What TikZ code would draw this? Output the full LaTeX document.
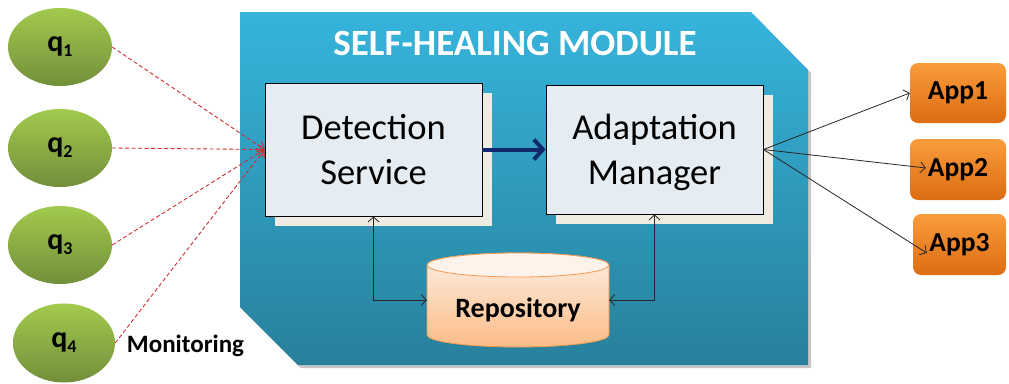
\documentclass[tikz,border=0pt]{standalone}
\usepackage{fontspec}
\setmainfont{Carlito}
\usetikzlibrary{arrows.meta,shadows,shapes.geometric}
\definecolor{modtop}{HTML}{36B4DC}
\definecolor{modbot}{HTML}{28809B}
\definecolor{boxfill}{HTML}{E5EDF2}
\definecolor{pagefill}{HTML}{EEEBE1}
\definecolor{repotop}{HTML}{FEEEE2}
\definecolor{repobot}{HTML}{FBBC88}
\definecolor{repodraw}{HTML}{F39A50}
\definecolor{qtop}{HTML}{A2CA4E}
\definecolor{qbot}{HTML}{728F3A}
\definecolor{apptop}{HTML}{FA9C3C}
\definecolor{appbot}{HTML}{DC6C12}
\definecolor{monred}{HTML}{D42B2B}
\definecolor{navy}{HTML}{10296C}
\tikzset{
  svcbox/.style={draw=black, line width=0.9pt, fill=boxfill, inner sep=0pt, align=center,
    font=\fontsize{36.5}{45}\selectfont,
    copy shadow={shadow xshift=9.5pt, shadow yshift=-9.5pt, fill=pagefill, draw=none}},
  qnode/.style={ellipse, inner sep=0pt, top color=qtop, bottom color=qbot, draw=none,
    font=\fontsize{30}{30}\bfseries\selectfont},
  appnode/.style={rounded corners=8pt, inner sep=0pt, top color=apptop, bottom color=appbot,
    draw=none, font=\fontsize{27.5}{27.5}\bfseries\selectfont},
  mon/.style={monred, line width=0.9pt, dash pattern=on 4pt off 2.5pt,
    -{Straight Barb[length=6pt,width=10pt]}},
  link/.style={black!85, line width=0.8pt},
  barb/.tip={Straight Barb[length=5pt,width=11pt]}
}
\newcommand{\qsub}[1]{q\raisebox{-5pt}{\fontsize{18}{18}\bfseries\selectfont #1}}
\begin{document}
\begin{tikzpicture}[x=1pt,y=-1pt]
\useasboundingbox (0,0) rectangle (1009,383);
% module
\fill[black!22] (243,15) -- (754,15) -- (811,73) -- (811,368) -- (301,368) -- (243,310) -- cycle;
\shade[top color=modtop, bottom color=modbot]
  (240,12) -- (751,12) -- (808,70) -- (808,365) -- (298,365) -- (240,307) -- cycle;
\node (title) at (515,44) [text=white, font=\fontsize{37}{37}\bfseries\selectfont] {SELF-HEALING MODULE};
% service boxes
\node[svcbox, minimum width=217pt, minimum height=133pt] (det) at (373.5,149.5) {Detection\\Service};
\node[svcbox, minimum width=217pt, minimum height=129pt, text depth=0pt] (adp) at (654.5,149.5) {Adaptation\\Manager};
% repository
\shade[top color=repotop, bottom color=repobot, draw=repodraw, line width=0.8pt]
  (427,265) -- (427,335) arc[start angle=180, end angle=360, x radius=91pt, y radius=12pt]
  -- (609,265) arc[start angle=0, end angle=180, x radius=91pt, y radius=12pt] -- cycle;
\fill[repotop!70!white, draw=repodraw, line width=0.8pt] (518,265) ellipse [x radius=91pt, y radius=12pt];
\node[minimum width=182pt, minimum height=94pt, inner sep=0pt] (repo) at (518,300) {};
\node (repotext) at (518,310) [font=\fontsize{28}{28}\bfseries\selectfont] {Repository};
% arrows inside module
\draw[navy, line width=4pt, -{Straight Barb[length=9pt,width=20pt]}] (det.east) -- (adp.west);
\draw[link, barb-barb] (det.south) |- (repo.west);
\draw[link, barb-barb] (adp.south) |- (repo.east);
% monitored nodes
\node[qnode, minimum width=104pt, minimum height=78pt] (q1) at (60,47) {\qsub{1}};
\node[qnode, minimum width=104pt, minimum height=78pt] (q2) at (60,148) {\qsub{2}};
\node[qnode, minimum width=104pt, minimum height=78pt] (q3) at (60,245) {\qsub{3}};
\node[qnode, minimum width=102pt, minimum height=79pt] (q4) at (64,343) {\qsub{4}};
\draw[mon] (q1.east) -- (det.west);
\draw[mon] (q2.east) -- (det.west);
\draw[mon] (q3.east) -- (det.west);
\draw[mon] (q4.east) -- (det.west);
\node (monlabel) at (185.5,346) [font=\fontsize{25}{25}\bfseries\selectfont] {Monitoring};
% applications
\node[appnode, minimum width=96pt, minimum height=60pt] (app1) at (958,93) {App1};
\node[appnode, minimum width=96pt, minimum height=61pt] (app2) at (958,169.5) {App2};
\node[appnode, minimum width=93pt, minimum height=61pt] (app3) at (959.5,244.5) {App3};
\draw[link, -barb] (adp.east) -- (app1.west);
\draw[link, -barb] (adp.east) -- ([xshift=16pt,yshift=1.5pt]app2.west);
\draw[link, -barb] (adp.east) -- ([xshift=14pt,yshift=-8.5pt]app3.west);
\end{tikzpicture}
\end{document}
